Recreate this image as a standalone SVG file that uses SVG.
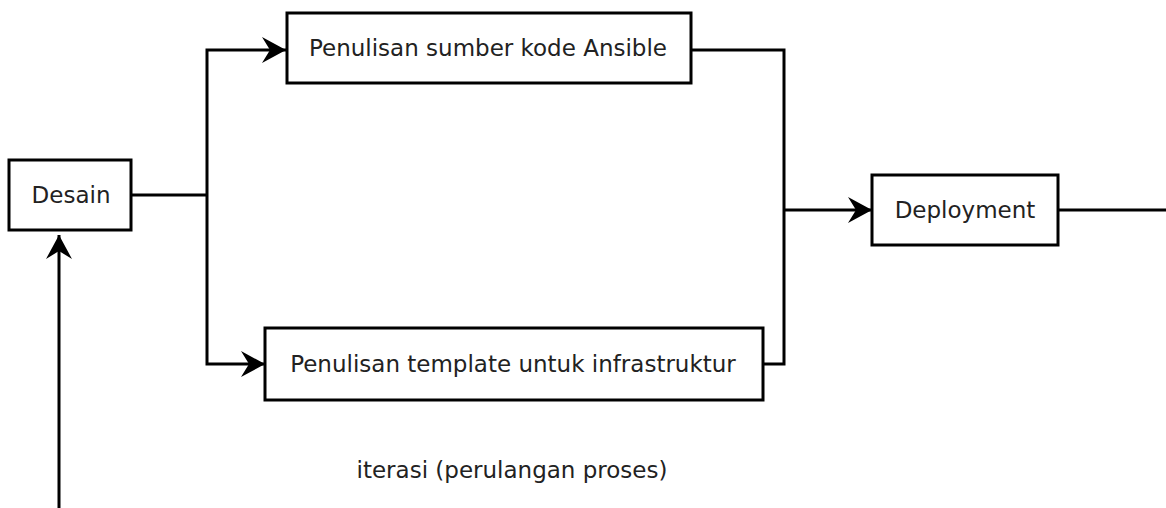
<svg xmlns="http://www.w3.org/2000/svg" width="1166" height="508" viewBox="0 0 1166 508">
  <style>
    .box { fill: #ffffff; stroke: #000000; stroke-width: 3; }
    .lbl { font-family: "DejaVu Sans", "Liberation Sans", sans-serif; font-size: 23px; fill: #222222; text-anchor: middle; dominant-baseline: central; }
    .wire { fill: none; stroke: #000000; stroke-width: 3; }
  </style>
  <defs>
    <marker id="head" markerUnits="userSpaceOnUse" markerWidth="26" markerHeight="28" refX="24" refY="14" orient="auto">
      <path d="M0,1 L24,14 L0,27 L8,14 Z" fill="#000000"/>
    </marker>
  </defs>
  <rect width="1166" height="508" fill="#ffffff"/>

  <g id="connectors">
    <!-- Desain to the fork -->
    <polyline class="wire" points="131,195 207,195"/>
    <polyline class="wire" points="207,195 207,50 286,50" marker-end="url(#head)"/>
    <polyline class="wire" points="207,195 207,364 265,364" marker-end="url(#head)"/>
    <!-- join of both branches -->
    <polyline class="wire" points="691,50 784,50 784,364 763,364"/>
    <polyline class="wire" points="784,210 872,210" marker-end="url(#head)"/>
    <polyline class="wire" points="1058,210 1166,210"/>
    <!-- iteration loop back into Desain -->
    <polyline class="wire" points="59,508 59,235" marker-end="url(#head)"/>
  </g>

  <g id="desain">
    <rect class="box" x="9" y="160" width="122" height="70"/>
    <text class="lbl" x="71" y="195">Desain</text>
  </g>
  <g id="ansible">
    <rect class="box" x="287" y="13" width="404" height="70"/>
    <text class="lbl" x="488" y="48">Penulisan sumber kode Ansible</text>
  </g>
  <g id="template">
    <rect class="box" x="265" y="328" width="498" height="72"/>
    <text class="lbl" x="513" y="364">Penulisan template untuk infrastruktur</text>
  </g>
  <g id="deployment">
    <rect class="box" x="872" y="175" width="186" height="70"/>
    <text class="lbl" x="965" y="210">Deployment</text>
  </g>
  <g id="iterasi">
    <text class="lbl" x="512" y="470">iterasi (perulangan proses)</text>
  </g>
</svg>
